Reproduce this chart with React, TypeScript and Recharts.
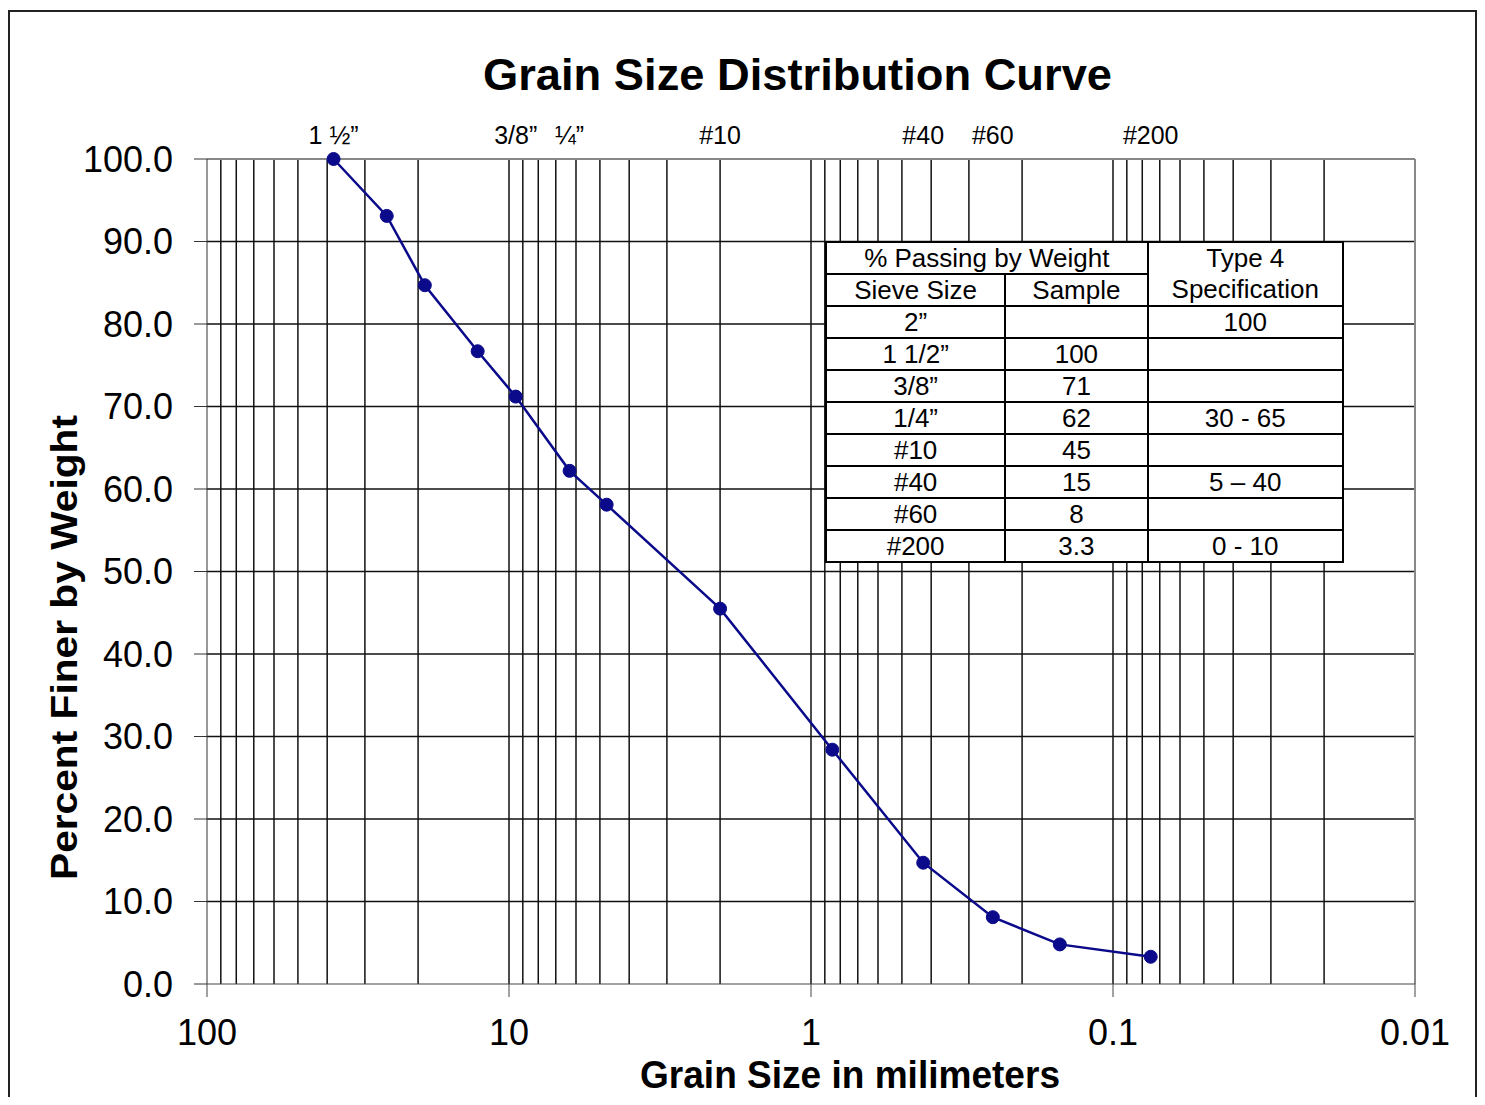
import React from 'react';
import { LineChart, Line, XAxis, YAxis, ReferenceLine } from 'recharts';

// sieve opening (mm) and percent finer
const sieveSizes = [38.1, 25.4, 19.0, 12.7, 9.5, 6.3, 4.75, 2.0, 0.85, 0.425, 0.25, 0.15, 0.075];
const percentFiner = [100, 93.1, 84.7, 76.7, 71.2, 62.2, 58.1, 45.5, 28.4, 14.7, 8.1, 4.8, 3.3];

const decadeTicks = [100, 10, 1, 0.1, 0.01];
const percentTicks = [0, 10, 20, 30, 40, 50, 60, 70, 80, 90, 100];

// sieve names printed along the top
const topTickValues = [38.1, 9.5, 6.3, 2.0, 0.425, 0.25, 0.075];
const topTickLabels = ['1 ½”', '3/8”', '¼”', '#10', '#40', '#60', '#200'];

// table inset
const tableSieves = ['2”', '1 1/2”', '3/8”', '1/4”', '#10', '#40', '#60', '#200'];
const tableSample = ['', '100', '71', '62', '45', '15', '8', '3.3'];
const tableSpec = ['100', '', '', '30 - 65', '', '5 – 40', '', '0 - 10'];

const points = sieveSizes.map((size, i) => ({ size, pct: percentFiner[i] }));

// log grid: 2..9 in every decade plus the inner decade lines
const gridValues = [10, 1, 0.1, 0.01].flatMap((d) => [2, 3, 4, 5, 6, 7, 8, 9].map((m) => +(m * d).toPrecision(3)))
  .concat([10, 1, 0.1]);
const hGrid = [10, 20, 30, 40, 50, 60, 70, 80, 90];

const FONT = 'Arial, "Liberation Sans", sans-serif';

const cell: React.CSSProperties = {
  border: '2px solid #000',
  padding: 0,
  height: 30,
  lineHeight: '30px',
  textAlign: 'center',
  fontSize: 26,
};

export default function App() {
  return (
    <div style={{ position: 'relative', width: 1469, height: 1089, overflow: 'hidden', fontFamily: FONT, background: '#fff' }}>
      <div style={{ position: 'absolute', left: 0, top: 2, width: 1469, height: 1120, border: '2px solid #222', boxSizing: 'border-box' }} />

      <div style={{ position: 'absolute', left: 0, top: 0 }}>
        <LineChart width={1469} height={1089} data={points} margin={{ top: 111, right: 62, bottom: 53, left: 79 }}>
          <XAxis
            xAxisId="bottom"
            dataKey="size"
            type="number"
            scale="log"
            domain={[0.01, 100]}
            reversed
            ticks={decadeTicks}
            tickFormatter={(v) => String(v)}
            height={60}
            stroke="#444"
            tickSize={13}
            tickMargin={22}
            tick={{ fontSize: 36, fill: '#000', fontFamily: FONT }}
          />
          <XAxis
            xAxisId="top"
            orientation="top"
            dataKey="size"
            type="number"
            scale="log"
            domain={[0.01, 100]}
            reversed
            ticks={topTickValues}
            tickFormatter={(v) => topTickLabels[topTickValues.indexOf(v)] ?? ''}
            height={40}
            axisLine={false}
            tickLine={false}
            tickSize={0}
            tickMargin={15}
            tick={{ fontSize: 25, fill: '#000', fontFamily: FONT }}
          />
          <YAxis
            dataKey="pct"
            type="number"
            domain={[0, 100]}
            ticks={percentTicks}
            tickFormatter={(v) => v.toFixed(1)}
            width={120}
            stroke="#333"
            tickSize={13}
            tickMargin={21}
            tick={{ fontSize: 36, fill: '#000', fontFamily: FONT }}
          />
          {hGrid.map((v) => (
            <ReferenceLine key={'h' + v} xAxisId="bottom" y={v} stroke="#111" strokeWidth={1.5} />
          ))}
          {gridValues.map((v) => (
            <ReferenceLine key={'v' + v} xAxisId="bottom" x={v} stroke="#111" strokeWidth={1.5} />
          ))}
          <ReferenceLine xAxisId="bottom" y={100} stroke="#888" strokeWidth={2} />
          <ReferenceLine xAxisId="bottom" x={0.01} stroke="#888" strokeWidth={2} />
          <Line
            xAxisId="bottom"
            dataKey="pct"
            stroke="#0a0a8a"
            strokeWidth={2.5}
            dot={{ r: 6.5, fill: '#0a0a8a', stroke: '#0a0a8a', strokeWidth: 1 }}
            isAnimationActive={false}
          />
        </LineChart>
      </div>

      <svg width={1469} height={1089} style={{ position: 'absolute', left: 0, top: 0, pointerEvents: 'none' }}>
        <text x={789.5} y={82} textAnchor="middle" fontSize={45} fontWeight="bold" fontFamily={FONT} textLength={629} lengthAdjust="spacingAndGlyphs">
          Grain Size Distribution Curve
        </text>
        <text x={842} y={1080} textAnchor="middle" fontSize={38} fontWeight="bold" fontFamily={FONT} textLength={420} lengthAdjust="spacingAndGlyphs">
          Grain Size in milimeters
        </text>
        <text x={69} y={639.5} transform="rotate(-90, 69, 639.5)" textAnchor="middle" fontSize={37} fontWeight="bold" fontFamily={FONT} textLength={465} lengthAdjust="spacingAndGlyphs">
          Percent Finer by Weight
        </text>
      </svg>

      <table style={{ position: 'absolute', left: 817, top: 233, width: 519, borderCollapse: 'collapse', background: '#fff', fontFamily: FONT }}>
        <tbody>
          <tr>
            <td colSpan={2} style={cell}>% Passing by Weight</td>
            <td rowSpan={2} style={{ ...cell, width: 195, lineHeight: '31px' }}>Type 4<br />Specification</td>
          </tr>
          <tr>
            <td style={{ ...cell, width: 181 }}>Sieve Size</td>
            <td style={{ ...cell, width: 142 }}>Sample</td>
          </tr>
          {tableSieves.map((s, i) => (
            <tr key={s}>
              <td style={cell}>{s}</td>
              <td style={cell}>{tableSample[i]}</td>
              <td style={cell}>{tableSpec[i]}</td>
            </tr>
          ))}
        </tbody>
      </table>
    </div>
  );
}
